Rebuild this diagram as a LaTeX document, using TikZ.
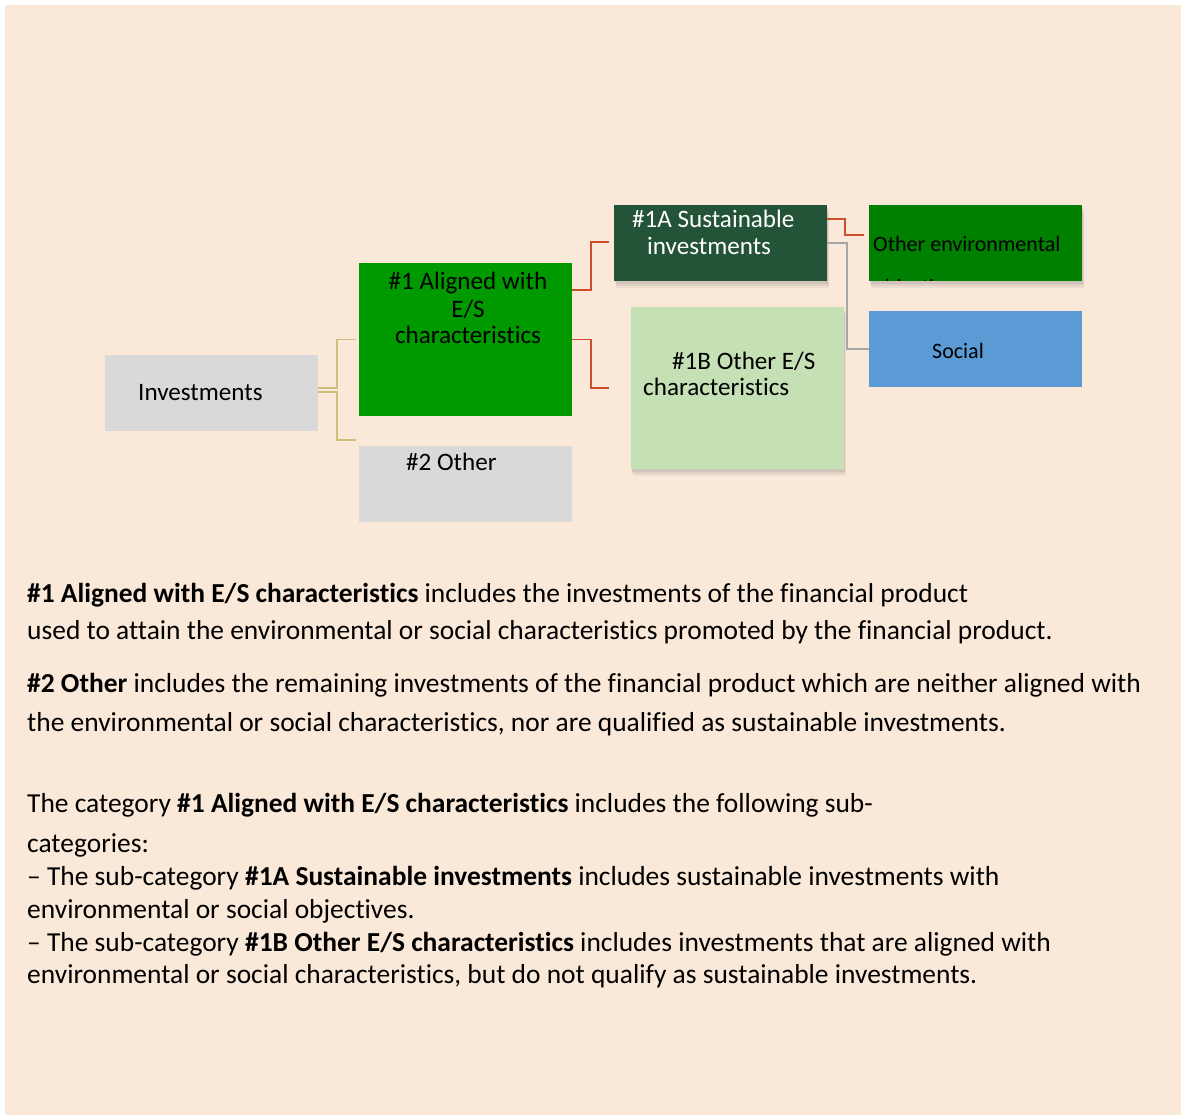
\documentclass[tikz,border=0pt]{standalone}
\usepackage{fontspec}
\setmainfont{Carlito}[Ligatures={NoCommon}]
\usetikzlibrary{shadows}
\definecolor{bgpeach}{HTML}{FAE8D8}
\definecolor{boxgrey}{HTML}{D9D9D9}
\definecolor{grnA}{HTML}{009900}
\definecolor{grnDark}{HTML}{235438}
\definecolor{grnLight}{HTML}{C5E0B4}
\definecolor{grnEnv}{HTML}{008000}
\definecolor{blueSoc}{HTML}{5B9BD5}
\definecolor{lnOrange}{HTML}{CC4F2C}
\definecolor{lnYellow}{HTML}{CCC07A}
\definecolor{lnGrey}{HTML}{A6A6A6}
\tikzset{
  box/.style={inner sep=0pt, outer sep=0pt, minimum width=213pt},
  shbox/.style={box,
    drop shadow={opacity=0.10, shadow xshift=2pt, shadow yshift=-7pt},
    drop shadow={opacity=0.12, shadow xshift=1.5pt, shadow yshift=-5pt},
    drop shadow={opacity=0.15, shadow xshift=1pt, shadow yshift=-3pt}},
  dtext/.style={inner sep=0pt, anchor=base west, font=\fontsize{25.1}{28}\selectfont},
  stext/.style={inner sep=0pt, anchor=base west, font=\fontsize{22}{26}\selectfont},
  btext/.style={inner sep=0pt, anchor=base west, font=\fontsize{27.45}{30}\selectfont},
  conn/.style={line width=1.6pt},
}
\begin{document}
\begin{tikzpicture}[x=1pt,y=-1pt]
\useasboundingbox (0,0) rectangle (1186,1115);
\fill[white] (0,0) rectangle (1186,1115);
\fill[bgpeach] (5,5) rectangle (1181,1115);

% boxes
\node[box, fill=boxgrey, minimum height=76pt] (inv) at (211.5,393) {};
\node[box, fill=grnA, minimum height=153pt] (a1) at (465.5,339.5) {};
\node[box, fill=boxgrey, minimum height=76pt] (oth) at (465.5,484) {};
\node[shbox, fill=grnDark, minimum height=76pt] (s1a) at (720.5,243) {};
\node[shbox, fill=grnLight, minimum height=162pt, minimum width=213pt] (s1b) at (737,388) {};
\node[shbox, fill=grnEnv, minimum height=76pt] (env) at (975.5,243) {};
\node[box, fill=blueSoc, minimum height=76pt] (soc) at (975.5,349) {};

% texts
\node[dtext] (tinv) at (138,400) {Investments};
\node[dtext, anchor=base] (ta1a) at (468,290) {\#1 Aligned with};
\node[dtext, anchor=base] (ta1b) at (468,318) {E/S};
\node[dtext, anchor=base] (ta1c) at (468,344) {characteristics};
\node[dtext] (toth) at (406,470) {\#2 Other};
\node[dtext, text=white] (ts1a) at (632,228) {\#1A Sustainable};
\node[dtext, text=white] (ts1b) at (647,255) {investments};
\node[dtext] (ts1ba) at (672,369) {\#1B Other E/S};
\node[dtext] (ts1bb) at (643,395) {characteristics};
\begin{scope}
\clip (env.north west) rectangle (env.south east);
\node[stext] (tenv) at (873,252) {Other environmental};
\node[stext] (tenv2) at (873,295) {objectives};
\end{scope}
\node[stext] (tsoc) at (932,358) {Social};

% connectors
\coordinate (y1) at ([xshift=-3pt]a1.west);
\coordinate (y2) at ([xshift=-3pt,yshift=6pt]oth.north west);
\draw[conn, lnYellow] ([yshift=5pt]inv.east) -- ++(19,0) |- (y1);
\draw[conn, lnYellow] ([yshift=1pt]inv.east) -- ++(19,0) |- (y2);
\coordinate (o1) at ([xshift=-5pt,yshift=1pt]s1a.west);
\coordinate (o2) at ([xshift=-22pt]s1b.west);
\draw[conn, lnOrange] ([yshift=-27pt]a1.north east) -- ++(19,0) |- (o1);
\draw[conn, lnOrange] (a1.east) -- ++(19,0) |- (o2);
\coordinate (o3) at ([xshift=-5pt,yshift=8pt]env.west);
\draw[conn, lnOrange] ([yshift=-14pt]s1a.north east) -- ++(18,0) |- (o3);
\draw[conn, lnGrey] (s1a.east) -- ++(20,0) |- (soc.west);

% body text
\node[btext] (p1) at (27,602) {\textbf{\#1 Aligned with E/S characteristics} includes the investments of the financial product};
\node[btext] (p2) at (27,639) {used to attain the environmental or social characteristics promoted by the financial product.};
\node[btext] (p3) at (27,692) {\textbf{\#2 Other} includes the remaining investments of the financial product which are neither aligned with};
\node[btext] (p4) at (27,731) {the environmental or social characteristics, nor are qualified as sustainable investments.};
\node[btext] (p5) at (27,812) {The category \textbf{\#1 Aligned with E/S characteristics} includes the following sub-};
\node[btext] (p6) at (27,852) {categories:};
\node[btext] (p7) at (27,885) {– The sub-category \textbf{\#1A Sustainable investments} includes sustainable investments with};
\node[btext] (p8) at (27,918) {environmental or social objectives.};
\node[btext] (p9) at (27,951) {– The sub-category \textbf{\#1B Other E/S characteristics} includes investments that are aligned with};
\node[btext] (p10) at (27,983) {environmental or social characteristics, but do not qualify as sustainable investments.};
\end{tikzpicture}
\end{document}
